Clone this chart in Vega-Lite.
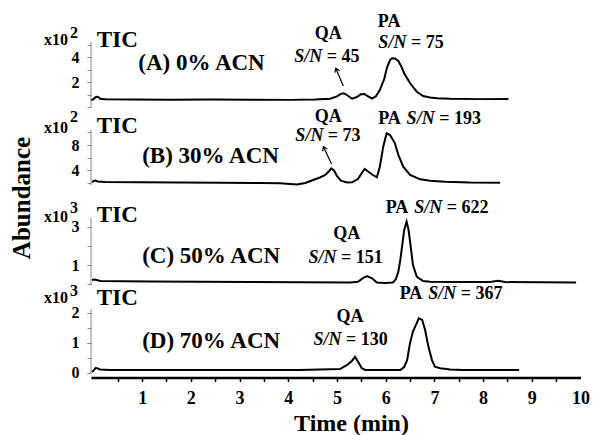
{
  "$schema": "https://vega.github.io/schema/vega-lite/v6.json",
  "autosize": {"type": "none"},
  "padding": {"left": 91, "top": 0, "right": 502, "bottom": 435},
  "bounds": "flush",
  "spacing": 0,
  "config": {
    "view": {"stroke": null},
    "axis": {"grid": false, "labelFont": "Liberation Serif", "labelFontWeight": "bold", "labelColor": "black", "titleFont": "Liberation Serif", "titleFontWeight": "bold", "titleColor": "black"},
    "text": {"font": "Liberation Serif", "fontWeight": "bold", "color": "black", "baseline": "alphabetic", "fontSize": 18},
    "line": {"color": "black", "strokeWidth": 2},
    "rule": {"color": "black"}
  },
  "datasets": {
    "A": [
      {"t": -0.05, "v": 0.56}, {"t": -0.01, "v": 0.6}, {"t": 0.05, "v": 0.8}, {"t": 0.09, "v": 0.82}, {"t": 0.14, "v": 0.66},
      {"t": 0.24, "v": 0.62}, {"t": 0.75, "v": 0.6}, {"t": 1.57, "v": 0.58}, {"t": 2.39, "v": 0.6}, {"t": 3.22, "v": 0.58},
      {"t": 4.04, "v": 0.57}, {"t": 4.55, "v": 0.6}, {"t": 4.86, "v": 0.66}, {"t": 5.0, "v": 0.85}, {"t": 5.08, "v": 1.05},
      {"t": 5.14, "v": 1.1}, {"t": 5.22, "v": 0.92}, {"t": 5.31, "v": 0.66}, {"t": 5.41, "v": 0.8}, {"t": 5.49, "v": 1.02},
      {"t": 5.56, "v": 1.04}, {"t": 5.64, "v": 0.85}, {"t": 5.72, "v": 0.68}, {"t": 5.8, "v": 0.86}, {"t": 5.88, "v": 1.36},
      {"t": 5.97, "v": 2.24}, {"t": 6.03, "v": 3.2}, {"t": 6.09, "v": 3.76}, {"t": 6.13, "v": 3.9}, {"t": 6.19, "v": 3.88},
      {"t": 6.26, "v": 3.68}, {"t": 6.32, "v": 3.25}, {"t": 6.38, "v": 2.7}, {"t": 6.44, "v": 2.3}, {"t": 6.5, "v": 1.92},
      {"t": 6.58, "v": 1.5}, {"t": 6.64, "v": 1.22}, {"t": 6.77, "v": 0.88}, {"t": 6.91, "v": 0.76}, {"t": 7.06, "v": 0.7},
      {"t": 7.32, "v": 0.66}, {"t": 7.94, "v": 0.63}, {"t": 8.52, "v": 0.64}
    ],
    "B": [
      {"t": -0.03, "v": 2.08}, {"t": 0.03, "v": 2.32}, {"t": 0.09, "v": 2.16}, {"t": 0.24, "v": 2.08}, {"t": 0.96, "v": 2.03},
      {"t": 1.78, "v": 2.0}, {"t": 2.6, "v": 1.97}, {"t": 3.42, "v": 1.92}, {"t": 3.83, "v": 1.87}, {"t": 4.18, "v": 1.68},
      {"t": 4.35, "v": 1.92}, {"t": 4.51, "v": 2.4}, {"t": 4.65, "v": 2.8}, {"t": 4.76, "v": 3.2}, {"t": 4.84, "v": 3.84},
      {"t": 4.88, "v": 4.27}, {"t": 4.94, "v": 3.92}, {"t": 5.0, "v": 3.04}, {"t": 5.08, "v": 2.29}, {"t": 5.21, "v": 2.0},
      {"t": 5.31, "v": 2.03}, {"t": 5.43, "v": 2.56}, {"t": 5.51, "v": 3.52}, {"t": 5.57, "v": 4.16}, {"t": 5.64, "v": 3.76},
      {"t": 5.72, "v": 3.28}, {"t": 5.82, "v": 2.83}, {"t": 5.88, "v": 4.53}, {"t": 5.95, "v": 7.73}, {"t": 6.02, "v": 9.87},
      {"t": 6.09, "v": 9.6}, {"t": 6.19, "v": 8.27}, {"t": 6.26, "v": 6.4}, {"t": 6.36, "v": 4.53}, {"t": 6.5, "v": 3.2},
      {"t": 6.71, "v": 2.51}, {"t": 6.91, "v": 2.27}, {"t": 7.22, "v": 2.13}, {"t": 7.73, "v": 2.0}, {"t": 8.35, "v": 1.97}
    ],
    "C": [
      {"t": -0.03, "v": 0.21}, {"t": 0.03, "v": 0.24}, {"t": 0.14, "v": 0.16}, {"t": 1.16, "v": 0.13}, {"t": 2.19, "v": 0.12},
      {"t": 3.22, "v": 0.1}, {"t": 4.24, "v": 0.09}, {"t": 5.27, "v": 0.08}, {"t": 5.43, "v": 0.12}, {"t": 5.54, "v": 0.32},
      {"t": 5.62, "v": 0.42}, {"t": 5.72, "v": 0.3}, {"t": 5.82, "v": 0.08}, {"t": 5.99, "v": 0.05}, {"t": 6.15, "v": 0.08},
      {"t": 6.21, "v": 0.26}, {"t": 6.26, "v": 0.65}, {"t": 6.3, "v": 1.26}, {"t": 6.34, "v": 2.05}, {"t": 6.38, "v": 2.84},
      {"t": 6.43, "v": 3.28}, {"t": 6.47, "v": 2.84}, {"t": 6.51, "v": 2.05}, {"t": 6.56, "v": 1.0}, {"t": 6.64, "v": 0.38},
      {"t": 6.77, "v": 0.16}, {"t": 6.91, "v": 0.12}, {"t": 7.32, "v": 0.1}, {"t": 8.14, "v": 0.1}, {"t": 8.31, "v": 0.17},
      {"t": 8.45, "v": 0.1}, {"t": 9.17, "v": 0.09}, {"t": 9.91, "v": 0.08}
    ],
    "D": [
      {"t": -0.03, "v": 0.03}, {"t": 0.05, "v": 0.17}, {"t": 0.14, "v": 0.12}, {"t": 0.34, "v": 0.1}, {"t": 2.19, "v": 0.1},
      {"t": 4.24, "v": 0.1}, {"t": 5.06, "v": 0.13}, {"t": 5.21, "v": 0.27}, {"t": 5.31, "v": 0.41}, {"t": 5.37, "v": 0.54},
      {"t": 5.43, "v": 0.38}, {"t": 5.51, "v": 0.16}, {"t": 5.58, "v": 0.1}, {"t": 6.3, "v": 0.1}, {"t": 6.38, "v": 0.2},
      {"t": 6.44, "v": 0.43}, {"t": 6.5, "v": 1.0}, {"t": 6.56, "v": 1.38}, {"t": 6.64, "v": 1.67}, {"t": 6.68, "v": 1.82},
      {"t": 6.75, "v": 1.77}, {"t": 6.81, "v": 1.43}, {"t": 6.87, "v": 0.93}, {"t": 6.95, "v": 0.43}, {"t": 7.01, "v": 0.21},
      {"t": 7.12, "v": 0.16}, {"t": 7.32, "v": 0.12}, {"t": 7.59, "v": 0.1}, {"t": 8.74, "v": 0.1}
    ]
  },
  "vconcat": [
    {
      "width": 489.5, "height": 118,
      "resolve": {"axis": {"x": "independent", "y": "independent"}},
      "layer": [
        {"data": {"name": "A"}, "mark": "line",
         "encoding": {
           "x": {"field": "t", "type": "quantitative", "scale": {"domain": [-0.05, 10], "nice": false, "zero": false}, "axis": null},
           "y": {"field": "v", "type": "quantitative", "scale": {"domain": [-0.88, 8.56], "nice": false, "zero": false},
                 "axis": {"orient": "left", "title": null, "domain": false, "labels": false, "values": [0, 1, 2, 3, 4, 5], "tickColor": "#888", "tickSize": 4}}}},
        {"data": {"values": [{}]}, "mark": {"type": "rule", "color": "#888"},
         "encoding": {"x": {"datum": -0.05, "axis": null},
                      "y": {"datum": 0, "axis": {"orient": "left", "title": null, "domain": false, "values": [2, 4], "format": "d", "tickColor": "#888", "tickSize": 4, "labelPadding": 8, "labelFontSize": 16}},
                      "y2": {"datum": 5.2}}},
        {"data": {"values": [{}]}, "mark": {"type": "text", "text": "x10", "align": "right", "fontSize": 16}, "encoding": {"x": {"datum": -0.52, "axis": null}, "y": {"datum": 4.96, "axis": null}}},
        {"data": {"values": [{}]}, "mark": {"type": "text", "text": "2", "align": "left", "fontSize": 16}, "encoding": {"x": {"datum": -0.48, "axis": null}, "y": {"datum": 5.52, "axis": null}}},
        {"data": {"values": [{}]}, "mark": {"type": "text", "text": "TIC", "align": "left", "fontSize": 23}, "encoding": {"x": {"datum": 0.07, "axis": null}, "y": {"datum": 4.8, "axis": null}}},
        {"data": {"values": [{}]}, "mark": {"type": "text", "text": "(A) 0% ACN", "align": "left", "fontSize": 23}, "encoding": {"x": {"datum": 0.92, "axis": null}, "y": {"datum": 2.96, "axis": null}}},
        {"data": {"values": [{}]}, "mark": {"type": "text", "text": "QA", "align": "center"}, "encoding": {"x": {"datum": 4.82, "axis": null}, "y": {"datum": 5.42, "axis": null}}},
        {"data": {"values": [{}]}, "mark": {"type": "text", "text": "S/N", "align": "left", "fontStyle": "italic"}, "encoding": {"x": {"datum": 4.125, "axis": null}, "y": {"datum": 3.58, "axis": null}}},
        {"data": {"values": [{}]}, "mark": {"type": "text", "text": "= 45", "align": "left"}, "encoding": {"x": {"datum": 4.79, "axis": null}, "y": {"datum": 3.58, "axis": null}}},
        {"data": {"values": [{}]}, "mark": {"type": "text", "text": "PA", "align": "center"}, "encoding": {"x": {"datum": 6.07, "axis": null}, "y": {"datum": 6.42, "axis": null}}},
        {"data": {"values": [{}]}, "mark": {"type": "text", "text": "S/N", "align": "left", "fontStyle": "italic"}, "encoding": {"x": {"datum": 5.85, "axis": null}, "y": {"datum": 4.7, "axis": null}}},
        {"data": {"values": [{}]}, "mark": {"type": "text", "text": "= 75", "align": "left"}, "encoding": {"x": {"datum": 6.52, "axis": null}, "y": {"datum": 4.7, "axis": null}}},
        {"data": {"values": [{}]}, "mark": {"type": "rule", "strokeWidth": 1.2}, "encoding": {"x": {"datum": 5.13, "axis": null}, "y": {"datum": 1.68, "axis": null}, "x2": {"datum": 4.975}, "y2": {"datum": 3.1}}},
        {"data": {"values": [{}]}, "mark": {"type": "point", "shape": "M-0.8,1.2L0,0L0.8,1.2", "filled": false, "stroke": "black", "strokeWidth": 1.2, "size": 40, "angle": -23, "opacity": 1}, "encoding": {"x": {"datum": 4.975, "axis": null}, "y": {"datum": 3.1, "axis": null}}}
      ]
    },
    {
      "width": 489.5, "height": 83,
      "resolve": {"axis": {"x": "independent", "y": "independent"}},
      "layer": [
        {"data": {"name": "B"}, "mark": "line",
         "encoding": {
           "x": {"field": "t", "type": "quantitative", "scale": {"domain": [-0.05, 10], "nice": false, "zero": false}, "axis": null},
           "y": {"field": "v", "type": "quantitative", "scale": {"domain": [-0.96, 12.32], "nice": false, "zero": false},
                 "axis": {"orient": "left", "title": null, "domain": false, "labels": false, "values": [2, 4, 6, 8, 10], "tickColor": "#888", "tickSize": 4}}}},
        {"data": {"values": [{}]}, "mark": {"type": "rule", "color": "#888"},
         "encoding": {"x": {"datum": -0.05, "axis": null},
                      "y": {"datum": 1.6, "axis": {"orient": "left", "title": null, "domain": false, "values": [4, 8], "format": "d", "tickColor": "#888", "tickSize": 4, "labelPadding": 8, "labelFontSize": 16}},
                      "y2": {"datum": 10.4}}},
        {"data": {"values": [{}]}, "mark": {"type": "text", "text": "x10", "align": "right", "fontSize": 16}, "encoding": {"x": {"datum": -0.52, "axis": null}, "y": {"datum": 9.87, "axis": null}}},
        {"data": {"values": [{}]}, "mark": {"type": "text", "text": "2", "align": "left", "fontSize": 16}, "encoding": {"x": {"datum": -0.48, "axis": null}, "y": {"datum": 11.73, "axis": null}}},
        {"data": {"values": [{}]}, "mark": {"type": "text", "text": "TIC", "align": "left", "fontSize": 23}, "encoding": {"x": {"datum": 0.07, "axis": null}, "y": {"datum": 9.87, "axis": null}}},
        {"data": {"values": [{}]}, "mark": {"type": "text", "text": "(B) 30% ACN", "align": "left", "fontSize": 23}, "encoding": {"x": {"datum": 1.0, "axis": null}, "y": {"datum": 5.07, "axis": null}}},
        {"data": {"values": [{}]}, "mark": {"type": "text", "text": "QA", "align": "center"}, "encoding": {"x": {"datum": 4.82, "axis": null}, "y": {"datum": 11.73, "axis": null}}},
        {"data": {"values": [{}]}, "mark": {"type": "text", "text": "S/N", "align": "left", "fontStyle": "italic"}, "encoding": {"x": {"datum": 4.146, "axis": null}, "y": {"datum": 8.69, "axis": null}}},
        {"data": {"values": [{}]}, "mark": {"type": "text", "text": "= 73", "align": "left"}, "encoding": {"x": {"datum": 4.813, "axis": null}, "y": {"datum": 8.69, "axis": null}}},
        {"data": {"values": [{}]}, "mark": {"type": "text", "text": "PA", "align": "left"}, "encoding": {"x": {"datum": 5.846, "axis": null}, "y": {"datum": 11.36, "axis": null}}},
        {"data": {"values": [{}]}, "mark": {"type": "text", "text": "S/N", "align": "left", "fontStyle": "italic"}, "encoding": {"x": {"datum": 6.43, "axis": null}, "y": {"datum": 11.36, "axis": null}}},
        {"data": {"values": [{}]}, "mark": {"type": "text", "text": "= 193", "align": "left"}, "encoding": {"x": {"datum": 7.1, "axis": null}, "y": {"datum": 11.36, "axis": null}}},
        {"data": {"values": [{}]}, "mark": {"type": "rule", "strokeWidth": 1.2}, "encoding": {"x": {"datum": 4.89, "axis": null}, "y": {"datum": 4.96, "axis": null}, "x2": {"datum": 4.72}, "y2": {"datum": 7.73}}},
        {"data": {"values": [{}]}, "mark": {"type": "point", "shape": "M-0.8,1.2L0,0L0.8,1.2", "filled": false, "stroke": "black", "strokeWidth": 1.2, "size": 40, "angle": -26, "opacity": 1}, "encoding": {"x": {"datum": 4.72, "axis": null}, "y": {"datum": 7.73, "axis": null}}}
      ]
    },
    {
      "width": 489.5, "height": 96,
      "resolve": {"axis": {"x": "independent", "y": "independent"}},
      "layer": [
        {"data": {"name": "C"}, "mark": "line",
         "encoding": {
           "x": {"field": "t", "type": "quantitative", "scale": {"domain": [-0.05, 10], "nice": false, "zero": false}, "axis": null},
           "y": {"field": "v", "type": "quantitative", "scale": {"domain": [-0.684, 4.368], "nice": false, "zero": false},
                 "axis": {"orient": "left", "title": "Abundance", "titleFontSize": 25, "titleAngle": 270, "titleX": -62, "titleY": -3.5, "titleAlign": "center", "titleBaseline": "alphabetic", "domain": false, "labels": false, "values": [0, 1, 2, 3], "tickColor": "#888", "tickSize": 4}}}},
        {"data": {"values": [{}]}, "mark": {"type": "rule", "color": "#888"},
         "encoding": {"x": {"datum": -0.05, "axis": null},
                      "y": {"datum": -0.05, "axis": {"orient": "left", "title": null, "domain": false, "values": [1, 3], "format": "d", "tickColor": "#888", "tickSize": 4, "labelPadding": 8, "labelFontSize": 16}},
                      "y2": {"datum": 3.47}}},
        {"data": {"values": [{}]}, "mark": {"type": "text", "text": "x10", "align": "right", "fontSize": 16}, "encoding": {"x": {"datum": -0.52, "axis": null}, "y": {"datum": 3.28, "axis": null}}},
        {"data": {"values": [{}]}, "mark": {"type": "text", "text": "3", "align": "left", "fontSize": 16}, "encoding": {"x": {"datum": -0.48, "axis": null}, "y": {"datum": 3.72, "axis": null}}},
        {"data": {"values": [{}]}, "mark": {"type": "text", "text": "TIC", "align": "left", "fontSize": 23}, "encoding": {"x": {"datum": 0.07, "axis": null}, "y": {"datum": 3.28, "axis": null}}},
        {"data": {"values": [{}]}, "mark": {"type": "text", "text": "(C) 50% ACN", "align": "left", "fontSize": 23}, "encoding": {"x": {"datum": 1.0, "axis": null}, "y": {"datum": 1.09, "axis": null}}},
        {"data": {"values": [{}]}, "mark": {"type": "text", "text": "QA", "align": "center"}, "encoding": {"x": {"datum": 5.2, "axis": null}, "y": {"datum": 2.35, "axis": null}}},
        {"data": {"values": [{}]}, "mark": {"type": "text", "text": "S/N", "align": "left", "fontStyle": "italic"}, "encoding": {"x": {"datum": 4.414, "axis": null}, "y": {"datum": 1.12, "axis": null}}},
        {"data": {"values": [{}]}, "mark": {"type": "text", "text": "= 151", "align": "left"}, "encoding": {"x": {"datum": 5.081, "axis": null}, "y": {"datum": 1.12, "axis": null}}},
        {"data": {"values": [{}]}, "mark": {"type": "text", "text": "PA", "align": "left"}, "encoding": {"x": {"datum": 6.0, "axis": null}, "y": {"datum": 3.72, "axis": null}}},
        {"data": {"values": [{}]}, "mark": {"type": "text", "text": "S/N", "align": "left", "fontStyle": "italic"}, "encoding": {"x": {"datum": 6.585, "axis": null}, "y": {"datum": 3.72, "axis": null}}},
        {"data": {"values": [{}]}, "mark": {"type": "text", "text": "= 622", "align": "left"}, "encoding": {"x": {"datum": 7.253, "axis": null}, "y": {"datum": 3.72, "axis": null}}}
      ]
    },
    {
      "width": 489.5, "height": 80.5,
      "resolve": {"axis": {"x": "independent", "y": "independent"}},
      "layer": [
        {"data": {"name": "D"}, "mark": "line",
         "encoding": {
           "x": {"field": "t", "type": "quantitative", "scale": {"domain": [-0.05, 10], "nice": false, "zero": false},
                 "axis": {"orient": "bottom", "title": null, "labels": false, "values": [0.5, 1, 1.5, 2, 2.5, 3, 3.5, 4, 4.5, 5, 5.5, 6, 6.5, 7, 7.5, 8, 8.5, 9, 9.5], "domainColor": "black", "domainWidth": 2.5, "tickColor": "black", "tickWidth": 1.5, "tickSize": 4}},
           "y": {"field": "v", "type": "quantitative", "scale": {"domain": [-0.15, 2.533], "nice": false, "zero": false},
                 "axis": {"orient": "left", "title": null, "domain": false, "labels": false, "values": [0, 0.5, 1, 1.5, 2], "tickColor": "#888", "tickSize": 4}}}},
        {"data": {"values": [{}]}, "mark": {"type": "rule", "color": "#888"},
         "encoding": {"x": {"datum": -0.05, "axis": {"orient": "bottom", "domain": false, "ticks": false, "values": [1, 2, 3, 4, 5, 6, 7, 8, 9, 10], "format": "d", "labelFontSize": 18, "labelPadding": 12, "labelFlush": false, "title": "Time (min)", "titleFontSize": 24, "titleX": 260, "titleY": 53, "titleAlign": "center", "titleBaseline": "alphabetic"}},
                      "y": {"datum": 0, "axis": {"orient": "left", "title": null, "domain": false, "values": [0, 1, 2], "format": "d", "tickColor": "#888", "tickSize": 4, "labelPadding": 8, "labelFontSize": 16}},
                      "y2": {"datum": 2.13}}},
        {"data": {"values": [{}]}, "mark": {"type": "text", "text": "x10", "align": "right", "fontSize": 16}, "encoding": {"x": {"datum": -0.52, "axis": null}, "y": {"datum": 2.33, "axis": null}}},
        {"data": {"values": [{}]}, "mark": {"type": "text", "text": "3", "align": "left", "fontSize": 16}, "encoding": {"x": {"datum": -0.48, "axis": null}, "y": {"datum": 2.57, "axis": null}}},
        {"data": {"values": [{}]}, "mark": {"type": "text", "text": "TIC", "align": "left", "fontSize": 23}, "encoding": {"x": {"datum": 0.07, "axis": null}, "y": {"datum": 2.25, "axis": null}}},
        {"data": {"values": [{}]}, "mark": {"type": "text", "text": "(D) 70% ACN", "align": "left", "fontSize": 23}, "encoding": {"x": {"datum": 1.0, "axis": null}, "y": {"datum": 0.82, "axis": null}}},
        {"data": {"values": [{}]}, "mark": {"type": "text", "text": "QA", "align": "center"}, "encoding": {"x": {"datum": 5.27, "axis": null}, "y": {"datum": 1.71, "axis": null}}},
        {"data": {"values": [{}]}, "mark": {"type": "text", "text": "S/N", "align": "left", "fontStyle": "italic"}, "encoding": {"x": {"datum": 4.516, "axis": null}, "y": {"datum": 0.93, "axis": null}}},
        {"data": {"values": [{}]}, "mark": {"type": "text", "text": "= 130", "align": "left"}, "encoding": {"x": {"datum": 5.184, "axis": null}, "y": {"datum": 0.93, "axis": null}}},
        {"data": {"values": [{}]}, "mark": {"type": "text", "text": "PA", "align": "left"}, "encoding": {"x": {"datum": 6.287, "axis": null}, "y": {"datum": 2.45, "axis": null}}},
        {"data": {"values": [{}]}, "mark": {"type": "text", "text": "S/N", "align": "left", "fontStyle": "italic"}, "encoding": {"x": {"datum": 6.873, "axis": null}, "y": {"datum": 2.45, "axis": null}}},
        {"data": {"values": [{}]}, "mark": {"type": "text", "text": "= 367", "align": "left"}, "encoding": {"x": {"datum": 7.54, "axis": null}, "y": {"datum": 2.45, "axis": null}}}
      ]
    }
  ]
}
